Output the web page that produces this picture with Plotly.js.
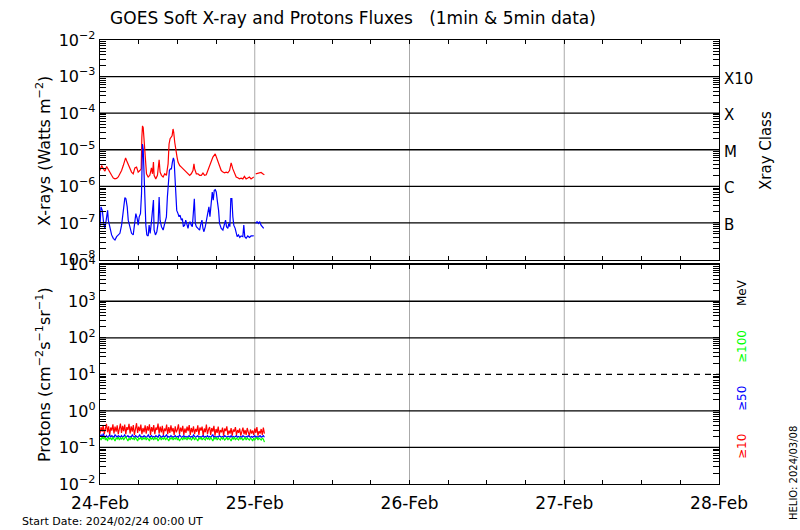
<!DOCTYPE html>
<html>
<head>
<meta charset="utf-8">
<script src="https://cdn.plot.ly/plotly-3.0.1.min.js"></script>
<style>
html,body{margin:0;padding:0;background:#fff;}
#chart{width:800px;height:530px;}
</style>
</head>
<body>
<div id="chart"></div>
<script>
// ---------------- DATA ----------------
const startDate = "2024-02-24 00:00";
const endDate = "2024-02-28 00:00";
const dayTicks = ["2024-02-24","2024-02-25","2024-02-26","2024-02-27","2024-02-28"];
const dayLabels = ["24-Feb","25-Feb","26-Feb","27-Feb","28-Feb"];
const minorTickHours = 6;

// GOES X-ray long channel (1-8 A), hours since start, W/m^2 (null = data gap)
const xrayLongHours = [0.00,0.26,0.52,0.77,1.03,1.29,1.55,1.80,2.06,2.32,2.58,2.83,3.09,3.35,3.61,3.97,4.12,4.38,4.64,4.89,5.15,5.41,5.67,5.92,6.18,6.39,6.49,6.59,6.70,6.80,6.90,7.00,7.11,7.21,7.47,7.73,7.98,8.14,8.29,8.39,8.65,8.91,9.17,9.32,9.53,9.79,10.04,10.30,10.56,10.71,10.87,11.02,11.18,11.33,11.43,11.59,11.74,11.95,12.10,12.36,12.62,12.88,13.13,13.39,13.65,13.91,14.16,14.42,14.57,14.68,14.94,15.19,15.45,15.71,15.97,16.22,16.48,16.74,17.00,17.25,17.51,17.87,18.03,18.28,18.54,18.80,19.06,19.31,19.57,19.83,20.09,20.34,20.60,20.86,21.12,21.37,21.63,21.89,22.15,22.40,22.66,22.92,23.18,23.43,23.69,23.84,24.00,24.15,24.46,24.72,24.98,25.24,25.49];
const xrayLongFlux = [2.7e-6,3.7e-6,3.0e-6,2.6e-6,3.5e-6,2.8e-6,2.45e-6,2.0e-6,1.68e-6,1.6e-6,1.65e-6,1.8e-6,2.2e-6,2.7e-6,3.7e-6,6.0e-6,5.1e-6,4.1e-6,3.0e-6,2.45e-6,2.2e-6,3.2e-6,3.35e-6,2.45e-6,2.7e-6,3.0e-6,2.2e-5,4.5e-5,4.0e-5,2.4e-5,1.44e-5,6.3e-6,3.0e-6,2.2e-6,1.8e-6,2.0e-6,3.2e-6,2.2e-6,4.6e-6,2.0e-6,1.6e-6,2.0e-6,5.3e-6,2.45e-6,2.0e-6,1.8e-6,2.2e-6,2.0e-6,4.1e-6,1.44e-5,2.0e-5,2.2e-5,2.4e-5,3.7e-5,3.0e-5,1.6e-5,9.5e-6,6.3e-6,4.6e-6,3.7e-6,3.35e-6,3.0e-6,2.7e-6,2.45e-6,2.2e-6,2.0e-6,2.2e-6,2.7e-6,4.1e-6,3.0e-6,2.2e-6,2.2e-6,2.0e-6,2.0e-6,2.3e-6,2.0e-6,2.07e-6,2.7e-6,3.7e-6,5.1e-6,6.3e-6,7.7e-6,6.3e-6,4.6e-6,3.35e-6,2.7e-6,2.45e-6,2.35e-6,2.45e-6,2.35e-6,2.7e-6,4.4e-6,3.0e-6,2.2e-6,1.8e-6,1.72e-6,1.6e-6,1.68e-6,1.6e-6,1.87e-6,1.6e-6,1.68e-6,1.8e-6,1.6e-6,1.68e-6,1.8e-6,null,2.2e-6,2.3e-6,2.3e-6,2.4e-6,2.2e-6,2.07e-6];

// GOES X-ray short channel (0.5-4 A)
const xrayShortHours = [0.00,0.15,0.36,0.57,0.77,0.98,1.18,1.29,1.55,1.80,2.06,2.32,2.58,2.83,3.09,3.35,3.61,3.86,4.02,4.22,4.38,4.64,4.89,5.15,5.41,5.56,5.77,5.92,6.08,6.28,6.44,6.54,6.59,6.70,6.75,6.85,6.95,7.11,7.26,7.47,7.62,7.78,7.98,8.14,8.29,8.39,8.60,8.81,9.01,9.17,9.32,9.53,9.79,10.04,10.30,10.45,10.61,10.76,10.92,11.07,11.23,11.38,11.49,11.59,11.74,11.90,12.10,12.26,12.41,12.62,12.77,12.93,13.13,13.29,13.44,13.65,13.80,13.96,14.16,14.32,14.47,14.63,14.78,14.94,15.19,15.45,15.60,15.81,15.97,16.12,16.33,16.48,16.74,16.89,17.05,17.25,17.41,17.56,17.72,17.87,18.03,18.18,18.39,18.54,18.80,19.06,19.31,19.47,19.62,19.83,19.98,20.14,20.29,20.45,20.60,20.75,20.96,21.12,21.27,21.48,21.68,21.89,22.15,22.30,22.45,22.66,22.92,23.18,23.43,23.69,23.84,24.00,24.15,24.36,24.57,24.77,24.98,25.24,25.39];
const xrayShortFlux = [7.9e-8,2.75e-7,2.2e-7,9.7e-8,7.1e-8,1.47e-7,2.2e-7,1.19e-7,7.9e-8,4.7e-8,3.8e-8,3.4e-8,4.2e-8,4.7e-8,5.2e-8,8.7e-8,1.8e-7,4.9e-7,4.6e-7,2.75e-7,1.19e-7,7.1e-8,5.2e-8,4.7e-8,1.19e-7,1.8e-7,1.32e-7,8.7e-8,1.47e-7,1.8e-7,6.3e-7,5.1e-6,1.44e-5,1.05e-5,5.1e-6,9.6e-7,2.2e-7,8.7e-8,4.7e-8,4.4e-8,8.7e-8,5.2e-8,1.08e-7,2.75e-7,4.2e-7,6.4e-8,4.7e-8,5.75e-8,9.7e-8,5.1e-7,1.19e-7,7.9e-8,6.4e-8,9.7e-8,1.47e-7,5.1e-7,1.46e-6,2.7e-6,3.0e-6,3.0e-6,4.6e-6,6.0e-6,5.1e-6,1.8e-6,5.1e-7,2.2e-7,1.8e-7,1.47e-7,1.63e-7,1.19e-7,1.32e-7,7.9e-8,8.7e-8,1.19e-7,9.7e-8,7.1e-8,9.7e-8,1.08e-7,8.7e-8,7.9e-8,1.8e-7,4.6e-7,9.7e-8,7.9e-8,7.1e-8,6.4e-8,8.7e-8,1.19e-7,7.1e-8,5.75e-8,7.9e-8,1.08e-7,1.8e-7,2.75e-7,1.47e-7,5.1e-7,7.0e-7,4.2e-7,7.8e-7,8.1e-7,7.0e-7,4.2e-7,2.2e-7,9.7e-8,7.1e-8,6.4e-8,8.7e-8,1.19e-7,7.9e-8,7.1e-8,9.7e-8,7.9e-8,4.6e-7,4.6e-7,1.47e-7,8.7e-8,7.1e-8,5.2e-8,4.2e-8,4.7e-8,4.0e-8,4.4e-8,4.2e-8,8.7e-8,4.2e-8,3.8e-8,4.4e-8,4.0e-8,4.4e-8,4.4e-8,4.5e-8,null,9.7e-8,1.08e-7,9.7e-8,1.08e-7,8.7e-8,7.9e-8,7.1e-8];

// GOES protons, 10-minute samples from start (pfu)
const protonStepMinutes = 10;
const proton10MeV = [0.24,0.36,0.27,0.41,0.23,0.33,0.44,0.26,0.38,0.22,
0.35,0.29,0.43,0.24,0.37,0.27,0.40,0.23,0.34,0.45,
0.25,0.39,0.28,0.42,0.23,0.36,0.30,0.44,0.24,0.38,
0.27,0.41,0.22,0.35,0.46,0.25,0.37,0.28,0.42,0.23,
0.34,0.26,0.40,0.24,0.38,0.29,0.43,0.22,0.36,0.27,
0.41,0.23,0.35,0.30,0.45,0.24,0.37,0.26,0.39,0.22,
0.33,0.28,0.42,0.23,0.36,0.25,0.40,0.27,0.34,0.22,
0.38,0.26,0.31,0.43,0.23,0.35,0.27,0.39,0.22,0.33,
0.25,0.37,0.28,0.41,0.22,0.34,0.26,0.38,0.23,0.32,
0.27,0.40,0.22,0.35,0.29,0.37,0.21,0.33,0.26,0.42,
0.23,0.31,0.36,0.22,0.34,0.27,0.39,0.21,0.32,0.25,
0.37,0.22,0.30,0.26,0.35,0.21,0.33,0.28,0.38,0.22,
0.29,0.24,0.34,0.21,0.31,0.27,0.36,0.22,0.30,0.25,
0.33,0.21,0.28,0.35,0.23,0.30,0.22,0.34,0.26,0.21,
0.31,0.24,0.29,0.22,0.33,0.25,0.36,0.21,0.28,0.24,
0.32,0.22,0.35,0.24];
const proton50MeV = [0.20,0.22,0.19,0.24,0.20,0.19,0.21,0.19,0.20,0.22,
0.19,0.21,0.20,0.19,0.22,0.20,0.19,0.21,0.20,0.19,
0.21,0.19,0.20,0.22,0.19,0.20,0.21,0.19,0.20,0.19,
0.22,0.20,0.19,0.21,0.20,0.19,0.20,0.22,0.19,0.20,
0.19,0.21,0.20,0.19,0.20,0.22,0.19,0.20,0.21,0.19,
0.20,0.19,0.21,0.20,0.19,0.22,0.20,0.19,0.20,0.21,
0.19,0.20,0.22,0.19,0.20,0.19,0.21,0.20,0.19,0.20,
0.21,0.19,0.20,0.19,0.22,0.20,0.19,0.20,0.21,0.19,
0.20,0.19,0.20,0.21,0.19,0.20,0.19,0.22,0.20,0.19,
0.20,0.21,0.19,0.20,0.19,0.20,0.21,0.19,0.20,0.19,
0.21,0.19,0.20,0.19,0.20,0.22,0.19,0.20,0.19,0.20,
0.19,0.21,0.20,0.19,0.20,0.19,0.21,0.20,0.19,0.20,
0.20,0.19,0.21,0.19,0.20,0.19,0.20,0.21,0.19,0.20,
0.19,0.20,0.19,0.21,0.20,0.19,0.20,0.19,0.21,0.20,
0.19,0.20,0.19,0.20,0.21,0.19,0.20,0.19,0.20,0.21,
0.19,0.20,0.21,0.19];
const proton100MeV = [0.18,0.16,0.19,0.17,0.20,0.16,0.18,0.15,0.19,0.17,
0.18,0.16,0.19,0.17,0.15,0.18,0.17,0.19,0.16,0.18,
0.17,0.19,0.16,0.18,0.20,0.17,0.15,0.18,0.16,0.19,
0.17,0.18,0.16,0.19,0.17,0.15,0.18,0.17,0.19,0.16,
0.18,0.17,0.19,0.16,0.18,0.17,0.15,0.19,0.17,0.18,
0.16,0.19,0.17,0.18,0.15,0.17,0.19,0.16,0.18,0.17,
0.19,0.16,0.18,0.17,0.15,0.18,0.17,0.19,0.16,0.18,
0.17,0.19,0.16,0.18,0.15,0.17,0.18,0.16,0.19,0.17,
0.18,0.16,0.19,0.17,0.18,0.16,0.17,0.19,0.16,0.18,
0.17,0.15,0.18,0.17,0.19,0.16,0.18,0.17,0.16,0.19,
0.17,0.18,0.16,0.19,0.17,0.15,0.18,0.17,0.19,0.16,
0.18,0.17,0.16,0.19,0.17,0.18,0.16,0.17,0.19,0.16,
0.18,0.17,0.15,0.18,0.17,0.19,0.16,0.18,0.17,0.16,
0.19,0.17,0.18,0.16,0.17,0.19,0.16,0.18,0.17,0.16,
0.18,0.17,0.15,0.18,0.16,0.17,0.19,0.16,0.18,0.17,
0.16,0.18,0.17,0.14];

// axis ticks / labels
const xrayDecadeExp = [-8,-7,-6,-5,-4,-3,-2];
const protonDecadeExp = [-2,-1,0,1,2,3,4];
const xrayGridFlux = [1e-7,1e-6,1e-5,1e-4,1e-3];
const xrayClassFlux = [1e-3,1e-4,1e-5,1e-6,1e-7];
const xrayClassLabels = ["X10","X","M","C","B"];
const protonGridSolid = [1e-1,1e0,1e2,1e3];
const protonThreshold = 10;
const dayGridLines = ["2024-02-25","2024-02-26","2024-02-27"];

// ---------------- BUILD ----------------
const t0 = Date.UTC(2024,1,24,0,0,0);
const hToMs = h => t0 + h*3600000;
const xl = xrayLongHours.map(hToMs);
const xs = xrayShortHours.map(hToMs);
const xp = proton10MeV.map((_,i)=> t0 + i*protonStepMinutes*60000);

// log axis ticks: decades labelled, 2..9 unlabelled
function logTicks(exps){
  const vals = [], text = [];
  exps.forEach((e,i) => {
    vals.push(Math.pow(10,e));
    text.push("10<sup>" + String(e).replace("-","−") + "</sup>");
    if(i < exps.length-1){
      for(let m=2;m<=9;m++){ vals.push(m*Math.pow(10,e)); text.push(""); }
    }
  });
  return {vals, text};
}
const topTicks = logTicks(xrayDecadeExp);
const botTicks = logTicks(protonDecadeExp);

// x ticks: every 6 h, labels at days
const xTickVals = [], xTickText = [];
for(let d=0; d<dayTicks.length; d++){
  const base = Date.UTC(2024,1,24+d);
  xTickVals.push(base); xTickText.push(dayLabels[d]);
  if(d < dayTicks.length-1){
    for(let h=minorTickHours; h<24; h+=minorTickHours){ xTickVals.push(base + h*3600000); xTickText.push(""); }
  }
}

const L = 100, W = 619, T = 40, H = 444;
const fx = px => (px - L)/W;
const fy = py => (T + H - py)/H;

const FONT = "DejaVu Sans, sans-serif";

const traces = [
  {x: xl, y: xrayLongFlux, xaxis:'x2', yaxis:'y2', type:'scatter', mode:'lines', line:{color:'#ff0000', width:1.2}, connectgaps:false},
  {x: xs, y: xrayShortFlux, xaxis:'x2', yaxis:'y2', type:'scatter', mode:'lines', line:{color:'#0000ff', width:1.2}, connectgaps:false},
  {x: xp, y: proton10MeV, xaxis:'x', yaxis:'y', type:'scatter', mode:'lines', line:{color:'#ff0000', width:1.2}},
  {x: xp, y: proton50MeV, xaxis:'x', yaxis:'y', type:'scatter', mode:'lines', line:{color:'#0000ff', width:1.2}},
  {x: xp, y: proton100MeV, xaxis:'x', yaxis:'y', type:'scatter', mode:'lines', line:{color:'#00ff00', width:1.2}}
];

const xCommon = {
  type:'date', range:[startDate, endDate], tickmode:'array', tickvals:xTickVals, ticktext:xTickText,
  ticks:'inside', ticklen:4, tickcolor:'#000', tickwidth:1,
  showgrid:false, showline:true, linecolor:'#000', linewidth:1.3, mirror:'ticks',
  zeroline:false, fixedrange:true
};
const yCommon = {
  type:'log', tickmode:'array', ticks:'inside', ticklen:6, tickcolor:'#000', tickwidth:1,
  showgrid:false, showline:true, linecolor:'#000', linewidth:1.3, mirror:'ticks',
  zeroline:false, fixedrange:true,
  tickfont:{family:FONT, size:16, color:'#000'}
};

const shapes = [];
dayGridLines.forEach(d => {
  ['y','y2'].forEach(ya => shapes.push({type:'line', xref: ya==='y'?'x':'x2', yref: ya+' domain', x0:d, x1:d, y0:0, y1:1,
    layer:'below', line:{color:'#aaaaaa', width:1}}));
});
xrayGridFlux.forEach(v => shapes.push({type:'line', xref:'x2 domain', yref:'y2', x0:0, x1:1, y0:v, y1:v, layer:'below',
  line:{color:'#000', width:1.3}}));
protonGridSolid.forEach(v => shapes.push({type:'line', xref:'x domain', yref:'y', x0:0, x1:1, y0:v, y1:v, layer:'below',
  line:{color:'#000', width:1.3}}));
shapes.push({type:'line', xref:'x domain', yref:'y', x0:0, x1:1, y0:protonThreshold, y1:protonThreshold, layer:'below',
  line:{color:'#000', width:1.3, dash:'6px,5px'}});

const ann = [];
const addA = (text, px, py, opt) => ann.push(Object.assign({
  text, xref:'paper', yref:'paper', x:fx(px), y:fy(py), showarrow:false,
  font:{family:FONT, size:15, color:'#000'}, xanchor:'center', yanchor:'middle'
}, opt||{}));

addA("X-rays (Watts m<sup>−2</sup>)", 43, 151, {textangle:-90, font:{family:FONT,size:16,color:'#000'}});
addA("Protons (cm<sup>−2</sup>s<sup>−1</sup>sr<sup>−1</sup>)", 43, 375, {textangle:-90, font:{family:FONT,size:16,color:'#000'}});
addA("Xray Class", 766, 150, {textangle:-90, font:{family:FONT,size:15,color:'#000'}});
xrayClassFlux.forEach((v,i)=> ann.push({
  text: xrayClassLabels[i], xref:'paper', yref:'y2', x:1, y:Math.log10(v), xshift:3, yshift:-2,
  xanchor:'left', yanchor:'middle', showarrow:false, font:{family:FONT,size:15,color:'#000'}
}));
addA("MeV", 742, 293, {textangle:-90, font:{family:FONT,size:12,color:'#000'}});
addA("≥100", 742, 347, {textangle:-90, font:{family:FONT,size:12,color:'#00ff00'}});
addA("≥50", 742, 399, {textangle:-90, font:{family:FONT,size:12,color:'#0000ff'}});
addA("≥10", 742, 447, {textangle:-90, font:{family:FONT,size:12,color:'#ff0000'}});
addA("HELIO: 2024/03/08", 793, 473, {textangle:-90, font:{family:FONT,size:10,color:'#000'}});
addA("Start Date: 2024/02/24 00:00 UT", 20, 521, {xanchor:'left', font:{family:FONT,size:11,color:'#000'}});

const layout = {
  width:800, height:530,
  margin:{l:L, r:800-L-W, t:T, b:530-T-H, pad:0},
  paper_bgcolor:'#fff', plot_bgcolor:'#fff',
  showlegend:false, hovermode:false,
  font:{family:FONT, color:'#000'},
  title:{text:"GOES Soft X-ray and Protons Fluxes   (1min &amp; 5min data)", xref:'container', yref:'container',
         x:353/800, y:1-18/530, xanchor:'center', yanchor:'middle', font:{family:FONT, size:17, color:'#000'}},
  xaxis: Object.assign({}, xCommon, {anchor:'y', domain:[0,1], ticklabelstandoff:3,
          tickfont:{family:FONT, size:17, color:'#000'}}),
  xaxis2: Object.assign({}, xCommon, {anchor:'y2', domain:[0,1], matches:'x', showticklabels:false}),
  yaxis: Object.assign({}, yCommon, {anchor:'x', domain:[0, 219.3/444], range:[-2,4],
          tickvals:botTicks.vals, ticktext:botTicks.text}),
  yaxis2: Object.assign({}, yCommon, {anchor:'x2', domain:[1-219.5/444, 1], range:[-8,-2],
          tickvals:topTicks.vals, ticktext:topTicks.text}),
  shapes, annotations: ann
};

Plotly.newPlot('chart', traces, layout, {displayModeBar:false, staticPlot:true});
</script>
</body>
</html>
